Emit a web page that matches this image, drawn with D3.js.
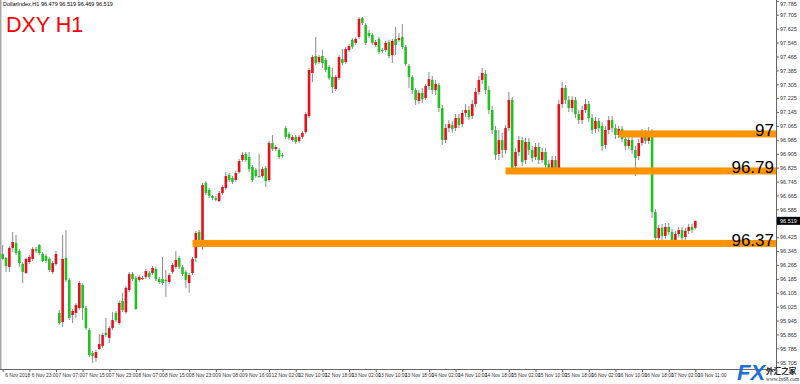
<!DOCTYPE html>
<html><head><meta charset="utf-8">
<script src="https://cdn.jsdelivr.net/npm/d3@7"></script>
<style>
html,body{margin:0;padding:0;background:#fff;}
svg{display:block;font-family:"Liberation Sans",Arial,sans-serif;}
</style></head>
<body><svg id="c" width="800" height="384"></svg>
<script>
const openVals = [
96.328,96.305,96.254,96.363,96.392,96.346,96.271,96.219,96.282,96.300,
96.357,96.380,96.328,96.317,96.300,96.225,96.271,95.989,95.937,96.305,
96.179,95.977,95.989,96.017,96.150,96.017,95.891,95.758,95.730,95.781,
95.799,95.874,95.845,95.902,95.989,95.931,96.058,95.994,96.121,96.213,
96.190,96.179,96.184,96.196,96.219,96.219,96.242,96.184,96.184,96.179,
96.167,96.225,96.254,96.305,96.254,96.225,96.161,96.219,96.305,96.455,
96.380,96.737,96.697,96.662,96.650,96.633,96.679,96.708,96.783,96.766,
96.754,96.800,96.869,96.904,96.886,96.829,96.812,96.777,96.777,96.823,
96.754,96.967,96.932,96.927,96.898,97.053,97.019,96.984,97.002,96.979,
97.002,97.030,97.122,97.370,97.468,97.433,97.468,97.445,97.404,97.347,
97.278,97.341,97.450,97.433,97.502,97.560,97.543,97.577,97.686,97.646,
97.600,97.589,97.531,97.566,97.502,97.502,97.548,97.473,97.566,97.560,
97.577,97.520,97.410,97.347,97.272,97.209,97.255,97.226,97.295,97.330,
97.272,97.301,97.168,96.984,97.053,97.071,97.053,97.111,97.076,97.140,
97.157,97.122,97.191,97.261,97.330,97.364,97.272,97.157,97.042,96.904,
96.984,96.927,97.053,97.215,96.835,96.915,96.984,96.869,96.973,96.927,
96.886,96.944,96.869,96.915,96.846,96.817,96.869,96.823,97.191,97.284,
97.215,97.168,97.215,97.134,97.099,97.157,97.191,97.111,97.048,97.094,
97.065,96.956,97.042,97.099,97.053,97.013,97.048,96.990,96.950,96.984,
96.927,96.892,96.967,97.019,96.979,97.030,96.570,96.420,96.478,96.432,
96.484,96.455,96.409,96.443,96.466,96.426,96.461,96.484,96.479];
const highVals = [
96.380,96.311,96.374,96.455,96.438,96.357,96.282,96.305,96.322,96.369,
96.369,96.386,96.340,96.328,96.311,96.288,96.346,96.006,96.438,96.466,
96.190,96.012,96.046,96.173,96.161,96.029,95.902,95.770,95.776,95.868,
95.874,95.960,95.914,95.994,96.000,96.058,96.104,96.144,96.225,96.225,
96.202,96.207,96.202,96.242,96.230,96.259,96.254,96.196,96.311,96.236,
96.219,96.276,96.346,96.317,96.265,96.236,96.219,96.311,96.461,96.466,
96.737,96.748,96.708,96.668,96.662,96.691,96.725,96.800,96.794,96.777,
96.806,96.875,96.915,96.915,96.915,96.840,96.823,96.904,96.829,96.835,
96.979,97.013,96.956,96.938,96.909,97.065,97.030,97.013,97.013,97.013,
97.036,97.145,97.399,97.473,97.577,97.473,97.502,97.456,97.416,97.399,
97.358,97.473,97.508,97.520,97.537,97.571,97.577,97.692,97.692,97.658,
97.617,97.600,97.560,97.577,97.514,97.554,97.560,97.566,97.635,97.600,
97.652,97.531,97.422,97.358,97.284,97.272,97.284,97.307,97.376,97.353,
97.330,97.312,97.186,97.076,97.099,97.094,97.134,97.134,97.157,97.191,
97.180,97.215,97.284,97.353,97.399,97.387,97.295,97.180,97.065,97.042,
97.025,97.071,97.261,97.232,96.938,97.007,97.002,96.996,96.996,96.950,
96.967,96.967,96.938,96.938,96.869,96.892,96.892,97.215,97.318,97.301,
97.238,97.238,97.232,97.157,97.180,97.220,97.209,97.134,97.117,97.111,
97.088,97.065,97.122,97.122,97.076,97.065,97.065,97.013,97.007,97.002,
96.950,96.990,97.048,97.042,97.059,97.048,96.587,96.495,96.501,96.507,
96.507,96.472,96.461,96.484,96.484,96.478,96.501,96.501,96.519];
const lowVals = [
96.294,96.225,96.225,96.340,96.322,96.254,96.161,96.213,96.271,96.288,
96.334,96.322,96.282,96.276,96.225,96.213,96.259,95.920,95.908,96.167,
95.948,95.931,95.960,96.006,95.948,95.891,95.735,95.701,95.707,95.776,
95.787,95.851,95.816,95.891,95.937,95.920,95.994,95.983,96.110,96.173,
96.006,96.167,96.179,96.184,96.184,96.207,96.173,96.156,96.150,96.081,
96.156,96.213,96.242,96.242,96.202,96.133,96.104,96.207,96.282,96.380,
96.351,96.668,96.650,96.639,96.633,96.627,96.668,96.697,96.743,96.731,
96.743,96.789,96.858,96.858,96.800,96.743,96.766,96.766,96.766,96.714,
96.743,96.921,96.921,96.875,96.881,96.990,96.984,96.973,96.961,96.967,
96.990,97.019,97.111,97.318,97.416,97.422,97.399,97.376,97.330,97.255,
97.266,97.330,97.416,97.422,97.491,97.508,97.531,97.566,97.646,97.531,
97.571,97.531,97.520,97.479,97.485,97.491,97.456,97.427,97.473,97.548,
97.508,97.410,97.284,97.249,97.186,97.191,97.197,97.215,97.272,97.249,
97.243,97.145,96.956,96.967,97.030,97.025,97.036,97.053,97.059,97.117,
97.099,97.105,97.174,97.243,97.307,97.249,97.134,97.019,96.869,96.869,
96.881,96.904,97.036,96.794,96.812,96.892,96.835,96.846,96.898,96.858,
96.869,96.846,96.852,96.812,96.789,96.800,96.794,96.806,97.168,97.191,
97.145,97.145,97.111,97.076,97.076,97.140,97.088,97.019,97.025,97.030,
96.921,96.932,97.019,97.030,96.990,96.996,96.973,96.927,96.932,96.904,
96.777,96.869,96.950,96.961,96.961,96.535,96.392,96.397,96.409,96.415,
96.438,96.386,96.397,96.426,96.397,96.409,96.443,96.449,96.469];
const closeVals = [
96.300,96.259,96.363,96.397,96.334,96.276,96.225,96.300,96.311,96.357,
96.346,96.334,96.288,96.288,96.236,96.276,96.328,95.931,96.300,96.179,
95.960,96.000,96.035,96.161,96.017,95.902,95.747,95.741,95.764,95.810,
95.862,95.862,95.902,95.948,95.948,96.046,96.006,96.133,96.213,96.184,
96.012,96.196,96.190,96.230,96.196,96.248,96.184,96.167,96.161,96.173,
96.207,96.265,96.294,96.254,96.213,96.179,96.207,96.300,96.449,96.392,
96.725,96.679,96.662,96.650,96.639,96.679,96.714,96.777,96.754,96.743,
96.794,96.863,96.898,96.869,96.817,96.754,96.777,96.771,96.817,96.748,
96.967,96.932,96.944,96.886,96.892,97.002,96.996,97.002,96.973,97.002,
97.025,97.134,97.387,97.462,97.427,97.462,97.427,97.387,97.341,97.289,
97.347,97.462,97.427,97.508,97.525,97.520,97.566,97.681,97.658,97.543,
97.583,97.543,97.548,97.491,97.496,97.543,97.468,97.554,97.531,97.571,
97.520,97.422,97.347,97.272,97.215,97.255,97.220,97.295,97.335,97.272,
97.307,97.168,96.984,97.053,97.076,97.048,97.111,97.071,97.140,97.157,
97.117,97.191,97.261,97.330,97.370,97.272,97.157,97.042,96.898,96.984,
96.927,97.053,97.215,96.823,96.915,96.984,96.858,96.973,96.927,96.881,
96.944,96.869,96.915,96.840,96.812,96.869,96.823,97.191,97.284,97.215,
97.168,97.215,97.134,97.099,97.157,97.191,97.111,97.042,97.094,97.053,
96.950,97.042,97.099,97.053,97.013,97.048,96.990,96.950,96.984,96.927,
96.881,96.967,97.019,96.979,97.036,96.570,96.420,96.478,96.432,96.484,
96.455,96.409,96.443,96.466,96.420,96.461,96.484,96.466,96.519];

const priceTicks = [97.785,97.705,97.625,97.545,97.465,97.385,97.305,97.225,97.145,97.065,
  96.985,96.905,96.825,96.745,96.665,96.585,96.505,96.425,96.345,96.265,96.185,96.105,
  96.025,95.945,95.865,95.785,95.705];
const timeTickBars = [0,8,16,24,32,40,48,56,64,72,80,88,96,104,112,120,128,136,144,152,160,168,176,184,192,200,208];
const timeLabels = ["6 Nov 2018","6 Nov 23:00","7 Nov 07:00","7 Nov 15:00","7 Nov 23:00","8 Nov 07:00",
  "8 Nov 15:00","8 Nov 23:00","9 Nov 08:00","9 Nov 16:00","12 Nov 02:00","12 Nov 10:00","12 Nov 18:00",
  "13 Nov 02:00","13 Nov 10:00","13 Nov 18:00","14 Nov 02:00","14 Nov 10:00","14 Nov 18:00","15 Nov 02:00",
  "15 Nov 10:00","15 Nov 18:00","16 Nov 02:00","16 Nov 10:00","16 Nov 18:00","17 Nov 02:00","19 Nov 11:00"];
const levelLabels = ["97","96.79","96.37"];
const levelPrices = [97.019, 96.806, 96.389];
const levelFromBar = [185, 151, 57];
const lastPrice = 96.519;
const headerText = "DollarIndex,H1  96.479 96.519 96.469 96.519";
const titleText = "DXY H1";

const svg = d3.select("#c");
const plotRight = 776, plotBottom = 369;
const x = d3.scaleLinear().domain([0, 232]).range([2.7, 2.7 + 3.33 * 232]);
const y = d3.scaleLinear().domain([95.672, 97.790]).range([368, 0]);

const data = openVals.map((o, i) => ({i, o, h: highVals[i], l: lowVals[i], c: closeVals[i]}));

svg.append("rect").attr("width", 800).attr("height", 384).attr("fill", "#fff");
svg.append("rect").attr("x", 0).attr("y", 0).attr("width", 1.5).attr("height", plotBottom).attr("fill", "#a8a8a8");

const g = svg.append("g");
g.selectAll("line.wick").data(data).enter().append("line")
  .attr("x1", d => x(d.i)).attr("x2", d => x(d.i))
  .attr("y1", d => y(d.h)).attr("y2", d => y(d.l))
  .attr("stroke", "#8a8a8a").attr("stroke-width", 1);
g.selectAll("rect.body").data(data).enter().append("rect")
  .attr("x", d => x(d.i) - 1.3).attr("width", 2.6)
  .attr("y", d => y(Math.max(d.o, d.c)))
  .attr("height", d => Math.max(1, Math.abs(y(d.o) - y(d.c))))
  .attr("fill", d => d.c >= d.o ? "#e8101a" : "#1fc21f");

const lv = svg.append("g");
levelPrices.forEach((p, k) => {
  lv.append("rect").attr("x", x(levelFromBar[k])).attr("y", y(p) - 3.5)
    .attr("width", plotRight - x(levelFromBar[k])).attr("height", 7).attr("fill", "#ff9300");
  lv.append("text").attr("x", 774).attr("y", y(p) + 2.5).attr("text-anchor", "end")
    .attr("font-size", 17).attr("fill", "#000").text(levelLabels[k]);
});

const ya = svg.append("g").attr("transform", `translate(${plotRight},0)`)
  .call(d3.axisRight(y).tickValues(priceTicks).tickSize(3).tickFormat(d3.format(".3f")));
ya.select(".domain").attr("stroke", "#666").attr("d", `M0.5,0V${plotBottom}`);
ya.selectAll(".tick line").attr("stroke", "#666");
ya.selectAll(".tick text").attr("font-size", 5.5).attr("fill", "#333").attr("x", 4)
  .attr("font-family", "'Liberation Sans',Arial,sans-serif")
  .attr("dy", d => d === priceTicks[0] ? "0.9em" : "0.32em")
  .style("display", d => Math.abs(y(d) - y(lastPrice)) < 6 ? "none" : null);

const xa = svg.append("g").attr("transform", `translate(0,${plotBottom})`)
  .call(d3.axisBottom(x).tickValues(timeTickBars).tickSize(3).tickFormat((d, i) => timeLabels[i]));
xa.select(".domain").attr("stroke", "#666").attr("d", `M0,0.5H${plotRight}`);
xa.selectAll(".tick line").attr("stroke", "#666");
xa.selectAll(".tick text").attr("font-size", 4.9).attr("fill", "#333").attr("text-anchor", "start")
  .attr("x", 2).attr("y", 5).attr("font-family", "'Liberation Sans',Arial,sans-serif");

svg.append("rect").attr("x", plotRight + 1).attr("y", y(lastPrice) - 4).attr("width", 23).attr("height", 8).attr("fill", "#000");
svg.append("text").attr("x", plotRight + 4).attr("y", y(lastPrice) + 2).attr("font-size", 5.5).attr("fill", "#fff").text(lastPrice.toFixed(3));

svg.append("text").attr("x", 3).attr("y", 6).attr("font-size", 5.5).attr("fill", "#000").text(headerText);
svg.append("text").attr("x", 6).attr("y", 32).attr("font-size", 21.5).attr("fill", "#ff0000").text(titleText);

const wm = svg.append("g");
wm.append("text").attr("x", 737).attr("y", 380).attr("font-size", 22).attr("font-weight", "bold")
  .attr("font-style", "italic").attr("fill", "#1f6fd6").text("FX");
wm.append("text").attr("x", 766).attr("y", 374).attr("font-size", 7.6).attr("font-weight", "bold")
  .attr("font-family", "'Noto Sans CJK SC',sans-serif").attr("fill", "#222").text("外汇之家");
wm.append("text").attr("x", 766).attr("y", 381).attr("font-size", 5.4)
  .attr("font-family", "'Liberation Serif',serif").attr("fill", "#333").text("www.fx68.com");
</script></body></html>
